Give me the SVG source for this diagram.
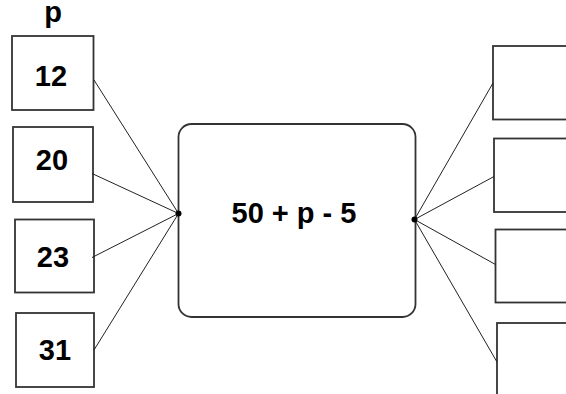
<svg xmlns="http://www.w3.org/2000/svg" width="566" height="394" viewBox="0 0 566 394">
<style>
.box{fill:#fff;stroke:#333;stroke-width:1.8}
.t{font-family:"Liberation Sans",Arial,sans-serif;font-weight:bold;font-size:29px;fill:#000;text-anchor:middle}
.ln{stroke:#222;stroke-width:1;fill:none}
</style>
<rect width="566" height="394" fill="#fff"/>
<text class="t" x="53" y="22">p</text>
<g id="in12"><rect class="box" x="12" y="36" width="81.5" height="74"/><text class="t" x="51" y="86">12</text></g>
<g id="in20"><rect class="box" x="13" y="127" width="80" height="75"/><text class="t" x="52" y="170">20</text></g>
<g id="in23"><rect class="box" x="15" y="219.5" width="79" height="73"/><text class="t" x="53" y="267">23</text></g>
<g id="in31"><rect class="box" x="16" y="313" width="78" height="74"/><text class="t" x="55" y="360">31</text></g>
<g id="func"><rect class="box" x="178.5" y="124" width="237" height="193" rx="13"/><text class="t" x="294" y="223">50 + p - 5</text></g>
<g id="out1"><rect class="box" x="493" y="46" width="80" height="73.5"/></g>
<g id="out2"><rect class="box" x="494" y="138.5" width="80" height="73.5"/></g>
<g id="out3"><rect class="box" x="495.5" y="229.5" width="80" height="73"/></g>
<g id="out4"><rect class="box" x="497" y="323" width="80" height="80"/></g>
<g id="connectors">
<line class="ln" x1="94" y1="80" x2="178.5" y2="213.5"/>
<line class="ln" x1="92" y1="173.5" x2="178.5" y2="213.5"/>
<line class="ln" x1="92" y1="257.5" x2="178.5" y2="213.5"/>
<line class="ln" x1="94" y1="350" x2="178.5" y2="213.5"/>
<line class="ln" x1="414.5" y1="219.5" x2="493" y2="83"/>
<line class="ln" x1="414.5" y1="219.5" x2="494" y2="176.5"/>
<line class="ln" x1="414.5" y1="219.5" x2="495.5" y2="264.5"/>
<line class="ln" x1="414.5" y1="219.5" x2="497" y2="362"/>
<circle cx="178.5" cy="213.5" r="3" fill="#000"/>
<circle cx="414.5" cy="219.5" r="3" fill="#000"/>
</g>
</svg>
